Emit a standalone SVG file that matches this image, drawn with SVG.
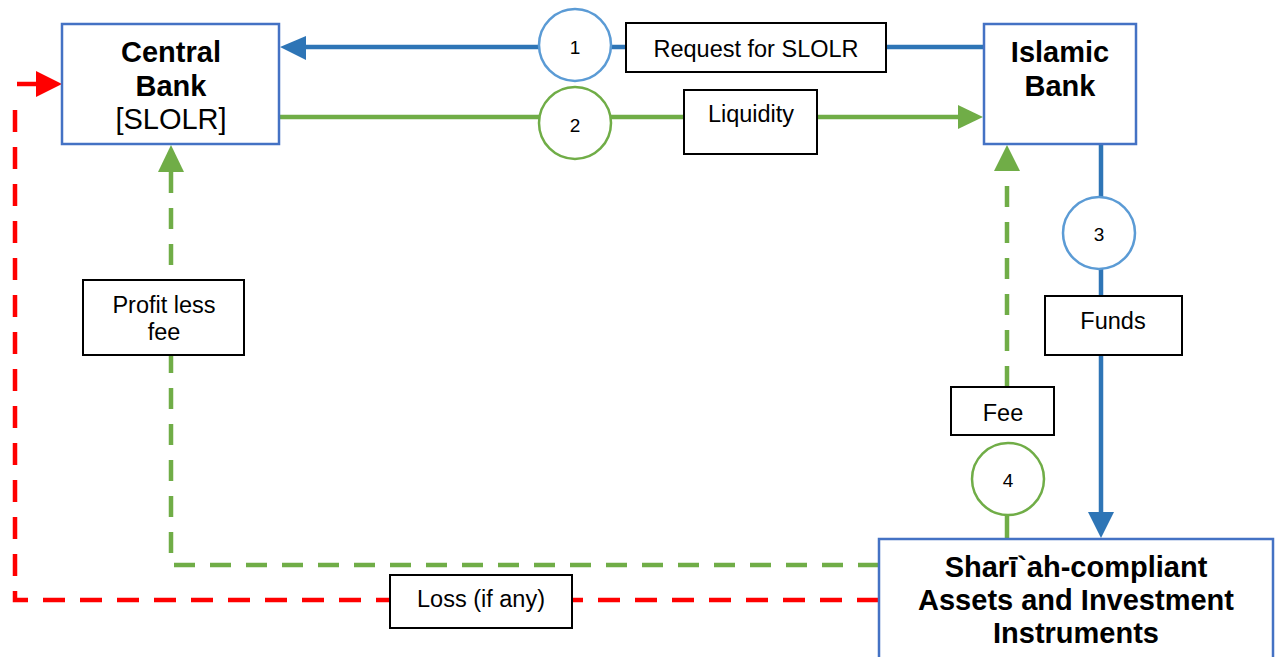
<svg xmlns="http://www.w3.org/2000/svg" width="1280" height="657" viewBox="0 0 1280 657">
<defs>
<style>
.node{fill:#fff;stroke:#4472C4;stroke-width:2.5}
.lbl{fill:#fff;stroke:#000;stroke-width:2}
.cb{fill:#fff;stroke:#5B9BD5;stroke-width:2.5}
.cg{fill:#fff;stroke:#70AD47;stroke-width:2.5}
.bt{font-family:"Liberation Sans",Arial,sans-serif;font-weight:bold;font-size:29px;fill:#000;text-anchor:middle}
.rt{font-family:"Liberation Sans",Arial,sans-serif;font-size:29px;fill:#000;text-anchor:middle}
.lt{font-family:"Liberation Sans",Arial,sans-serif;font-size:23.5px;fill:#000;text-anchor:middle}
.nt{font-family:"Liberation Sans",Arial,sans-serif;font-size:19px;fill:#000;text-anchor:middle}
.blue{fill:none;stroke:#2E75B6;stroke-width:4.5}
.green{fill:none;stroke:#70AD47;stroke-width:4.5}
.gdash{fill:none;stroke:#70AD47;stroke-width:4.5;stroke-dasharray:21 15}
.rdash{fill:none;stroke:#FF0000;stroke-width:4.5;stroke-dasharray:22 15}
</style>
</defs>
<rect width="1280" height="657" fill="#fff"/>
<g id="connectors">
<path class="blue" d="M983 47 H306"/>
<polygon points="280,47 306,36 306,60" fill="#2E75B6"/>
<path class="green" d="M279 117 H958"/>
<polygon points="983,117 958,105 958,129" fill="#70AD47"/>
<path class="blue" d="M1101 144 V513"/>
<polygon points="1101,538 1088,512 1114,512" fill="#2E75B6"/>
<path class="green" d="M1007 538 V515"/>
<path class="gdash" d="M1007 387 V171"/>
<polygon points="1007,145 994,171 1020,171" fill="#70AD47"/>
<path class="gdash" d="M879 565 H171 V172"/>
<polygon points="171,145 158,172 184,172" fill="#70AD47"/>
<path class="rdash" d="M879 600 H15 V96"/>
<path d="M17 84 H37" stroke="#FF0000" stroke-width="4.5" fill="none"/>
<polygon points="62,84 36,71 36,97" fill="#FF0000"/>
</g>
<g id="central-bank">
<rect class="node" x="62" y="24" width="217" height="120"/>
<text class="bt" x="171" y="62">Central</text>
<text class="bt" x="171" y="96">Bank</text>
<text class="rt" x="171" y="129">[SLOLR]</text>
</g>
<g id="islamic-bank">
<rect class="node" x="984" y="24" width="152" height="120"/>
<text class="bt" x="1060" y="62">Islamic</text>
<text class="bt" x="1060" y="96">Bank</text>
</g>
<g id="sharia-assets">
<rect class="node" x="879" y="539" width="394" height="140"/>
<text class="bt" x="1076" y="577">Sharī`ah-compliant</text>
<text class="bt" x="1076" y="610">Assets and Investment</text>
<text class="bt" x="1076" y="643">Instruments</text>
</g>
<g id="step-1">
<circle class="cb" cx="575" cy="45" r="36"/>
<text class="nt" x="575" y="54">1</text>
</g>
<g id="label-request">
<rect class="lbl" x="626" y="23" width="260" height="49"/>
<text class="lt" x="756" y="57">Request for SLOLR</text>
</g>
<g id="step-2">
<circle class="cg" cx="575" cy="123" r="36"/>
<text class="nt" x="575" y="132">2</text>
</g>
<g id="label-liquidity">
<rect class="lbl" x="684" y="90" width="133" height="64"/>
<text class="lt" x="751" y="122">Liquidity</text>
</g>
<g id="step-3">
<circle class="cb" cx="1099" cy="233" r="36"/>
<text class="nt" x="1099" y="241">3</text>
</g>
<g id="label-funds">
<rect class="lbl" x="1045" y="296" width="137" height="59"/>
<text class="lt" x="1113" y="329">Funds</text>
</g>
<g id="label-fee">
<rect class="lbl" x="951" y="387" width="103" height="48"/>
<text class="lt" x="1003" y="421">Fee</text>
</g>
<g id="step-4">
<circle class="cg" cx="1008" cy="479" r="36"/>
<text class="nt" x="1008" y="487">4</text>
</g>
<g id="label-profit">
<rect class="lbl" x="83" y="280" width="161" height="75"/>
<text class="lt" x="164" y="313">Profit less</text>
<text class="lt" x="164" y="340">fee</text>
</g>
<g id="label-loss">
<rect class="lbl" x="390" y="575" width="182" height="53"/>
<text class="lt" x="481" y="607">Loss (if any)</text>
</g>
</svg>
